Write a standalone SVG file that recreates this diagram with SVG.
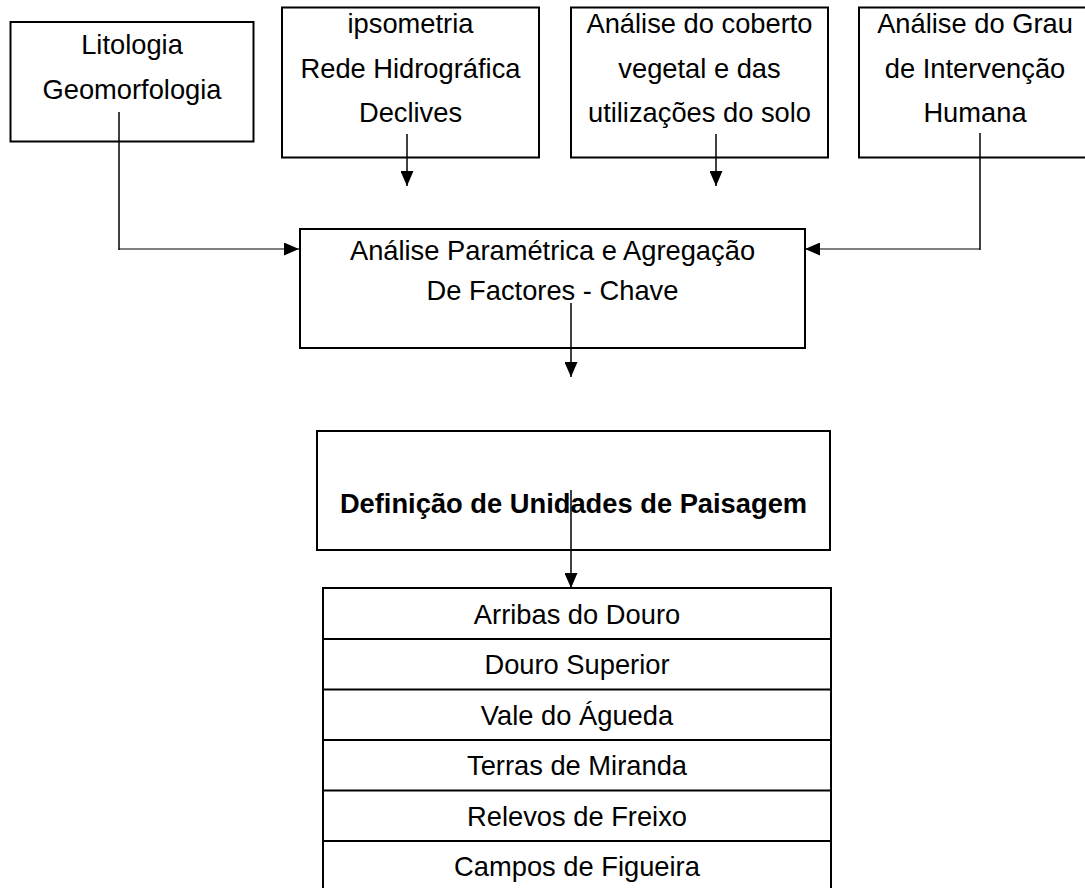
<svg xmlns="http://www.w3.org/2000/svg" width="1085" height="888" viewBox="0 0 1085 888">
<style>
  .box { fill: #ffffff; stroke: #000000; stroke-width: 2; }
  .t { font-family: "Liberation Sans", Arial, sans-serif; font-size: 27.3px; fill: #000000; text-anchor: middle; }
  .b { font-weight: bold; }
  .c { fill: none; stroke: #000000; stroke-width: 1.5; }
  .h { fill: none; stroke: #000000; stroke-width: 1.2; }
  .row { stroke: #000000; stroke-width: 2; }
</style>
<defs>
  <marker id="ah" viewBox="0 0 15 13" refX="15" refY="6.5" markerWidth="15" markerHeight="13" markerUnits="userSpaceOnUse" orient="auto">
    <path d="M0,0 L15,6.5 L0,13 z" fill="#000000"/>
  </marker>
</defs>

<g id="node-litologia">
  <rect class="box" x="10.5" y="22" width="243" height="119.5"/>
  <text class="t" x="132" y="54">Litologia</text>
  <text class="t" x="132" y="99">Geomorfologia</text>
</g>
<g id="node-hipsometria">
  <rect class="box" x="282" y="7.5" width="257" height="150"/>
  <text class="t" x="410.5" y="33">ipsometria</text>
  <text class="t" x="410.5" y="78">Rede Hidrográfica</text>
  <text class="t" x="410.5" y="122">Declives</text>
</g>
<g id="node-coberto">
  <rect class="box" x="571" y="7.5" width="257" height="150"/>
  <text class="t" x="699.5" y="33">Análise do coberto</text>
  <text class="t" x="699.5" y="78">vegetal e das</text>
  <text class="t" x="699.5" y="122">utilizações do solo</text>
</g>
<g id="node-intervencao">
  <rect class="box" x="859" y="7.5" width="250" height="150"/>
  <text class="t" x="975" y="33">Análise do Grau</text>
  <text class="t" x="975" y="78">de Intervenção</text>
  <text class="t" x="975" y="122">Humana</text>
</g>
<g id="node-analise">
  <rect class="box" x="300" y="229" width="505" height="119"/>
  <text class="t" x="552.5" y="260">Análise Paramétrica e Agregação</text>
  <text class="t" x="552.5" y="300">De Factores - Chave</text>
</g>
<g id="node-definicao">
  <rect class="box" x="317" y="431" width="513" height="119"/>
  <text class="t b" x="573.5" y="513">Definição de Unidades de Paisagem</text>
</g>
<g id="node-unidades">
  <rect class="box" x="323" y="588" width="508" height="330"/>
  <line class="row" x1="323" y1="639" x2="831" y2="639"/>
  <line class="row" x1="323" y1="689.5" x2="831" y2="689.5"/>
  <line class="row" x1="323" y1="740" x2="831" y2="740"/>
  <line class="row" x1="323" y1="790.5" x2="831" y2="790.5"/>
  <line class="row" x1="323" y1="841" x2="831" y2="841"/>
  <text class="t" x="577" y="624">Arribas do Douro</text>
  <text class="t" x="577" y="674">Douro Superior</text>
  <text class="t" x="577" y="724.5">Vale do Águeda</text>
  <text class="t" x="577" y="775">Terras de Miranda</text>
  <text class="t" x="577" y="825.5">Relevos de Freixo</text>
  <text class="t" x="577" y="875.5">Campos de Figueira</text>
</g>

<g id="connectors">
  <line class="c" x1="119" y1="112" x2="119" y2="250"/>
  <line class="h" x1="119" y1="249" x2="299" y2="249" marker-end="url(#ah)"/>
  <line class="c" x1="980" y1="133" x2="980" y2="250"/>
  <line class="h" x1="980" y1="249" x2="805" y2="249" marker-end="url(#ah)"/>
  <line class="c" x1="407" y1="134" x2="407" y2="186" marker-end="url(#ah)"/>
  <line class="c" x1="716" y1="134" x2="716" y2="186" marker-end="url(#ah)"/>
  <line class="c" x1="571" y1="303" x2="571" y2="377" marker-end="url(#ah)"/>
  <line class="c" x1="571" y1="490" x2="571" y2="588" marker-end="url(#ah)"/>
</g>
</svg>
